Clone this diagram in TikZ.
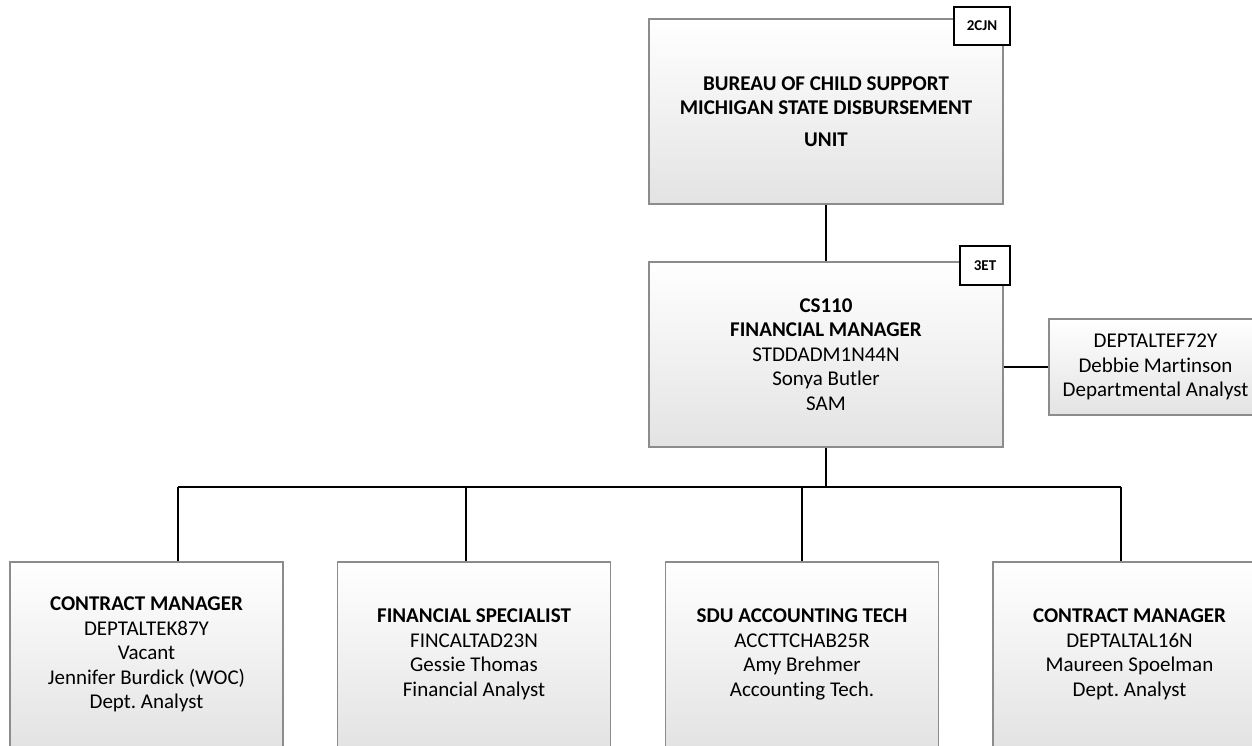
\documentclass[tikz,border=0pt]{standalone}
\usepackage{fontspec}
\setmainfont{Carlito}[Ligatures=NoCommon]
\begin{document}
\frenchspacing
\begin{tikzpicture}[x=1pt,y=-1pt,
  box/.style={draw=black!45, line width=1.1pt, top color=white, bottom color=black!11,
    align=center, inner sep=0pt, font=\fontsize{21}{24.5}\selectfont},
  bigbox/.style={box, minimum width=354pt, minimum height=185pt},
  botbox/.style={box, minimum width=273pt, minimum height=185pt},
  tag/.style={draw=black, line width=1.6pt, fill=white, inner sep=0pt,
    font=\fontsize{15}{17}\selectfont\bfseries},
  link/.style={draw=black, line width=1.6pt}]
\useasboundingbox (0,0) rectangle (1252,745);
\clip (0,0) rectangle (1252,745);

% top box
\node[bigbox] (top) at (826,111.5) {\textbf{BUREAU OF CHILD SUPPORT}\\\textbf{MICHIGAN STATE DISBURSEMENT}\\[7pt]\textbf{UNIT}};
\node[tag, minimum width=56pt, minimum height=38pt] (tagA) at (982,26) {2CJN};

% middle box
\node[bigbox] (mid) at (826,354.5) {\textbf{CS110}\\\textbf{FINANCIAL MANAGER}\\STDDADM1N44N\\Sonya Butler\\SAM};
\node[tag, minimum width=50pt, minimum height=39pt] (tagB) at (985,265.5) {3ET};

% side box
\node[box, minimum width=213pt, minimum height=96pt] (side) at (1155.5,367) {DEPTALTEF72Y\\Debbie Martinson\\Departmental Analyst};

% bottom boxes
\node[botbox] (b1) at (146.5,654.5) {\textbf{CONTRACT MANAGER}\\DEPTALTEK87Y\\Vacant\\Jennifer Burdick (WOC)\\Dept. Analyst};
\node[botbox] (b2) at (474,654.5) {\textbf{FINANCIAL SPECIALIST}\\FINCALTAD23N\\Gessie Thomas\\Financial Analyst};
\node[botbox] (b3) at (802,654.5) {\textbf{SDU ACCOUNTING TECH}\\ACCTTCHAB25R\\Amy Brehmer\\Accounting Tech.};
\node[botbox] (b4) at (1129.5,654.5) {\textbf{CONTRACT MANAGER}\\DEPTALTAL16N\\Maureen Spoelman\\Dept. Analyst};

% connectors
\draw[link] (top.south) -- (mid.north);
\draw[link] (side.west) -- (side.west -| mid.east);
\coordinate (bus) at (826,487);
\coordinate (c1) at (178,487);
\coordinate (c2) at (466,487);
\coordinate (c3) at (802,487);
\coordinate (c4) at (1121,487);
\draw[link] (mid.south) -- (bus);
\draw[link] (c1) -- (c4);
\draw[link] (c1) -- (c1 |- b1.north);
\draw[link] (c2) -- (c2 |- b2.north);
\draw[link] (c3) -- (c3 |- b3.north);
\draw[link] (c4) -- (c4 |- b4.north);
\end{tikzpicture}
\end{document}
